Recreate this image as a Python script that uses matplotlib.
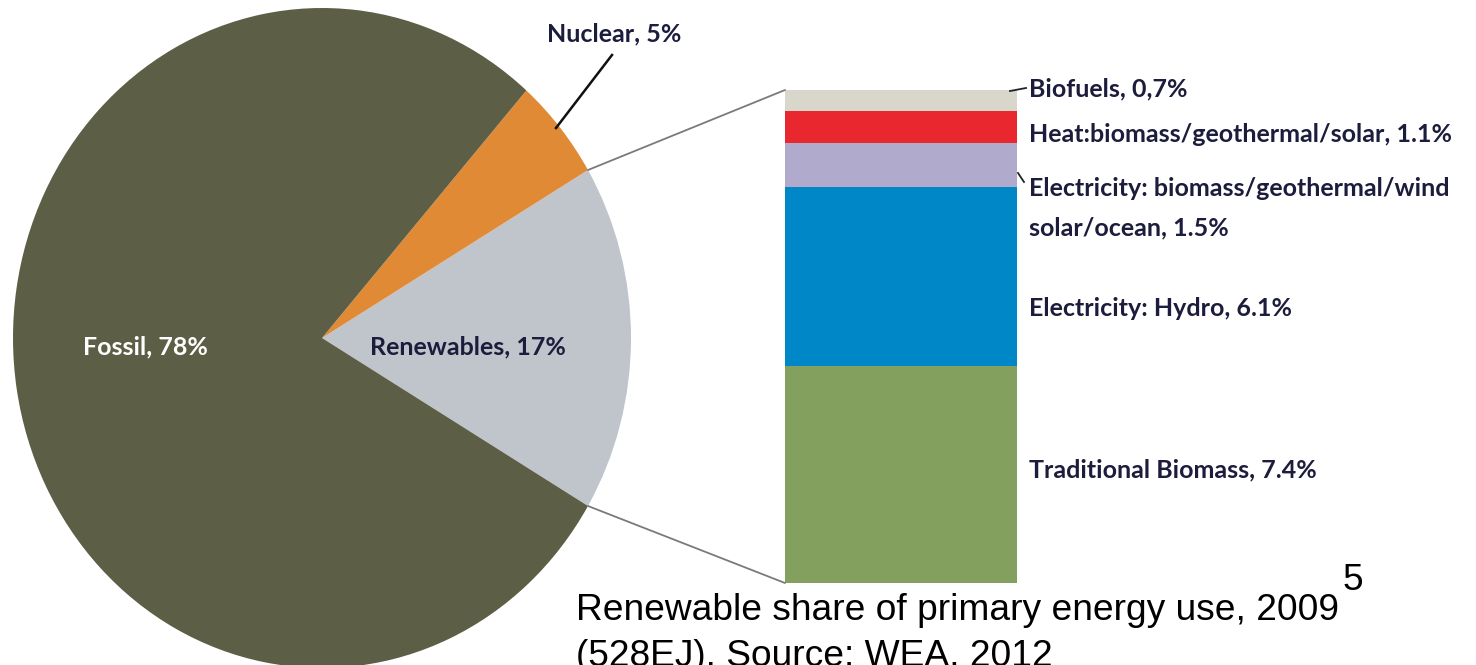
import matplotlib
matplotlib.use("Agg")
import matplotlib.pyplot as plt
import numpy as np
from matplotlib.patches import ConnectionPatch
from matplotlib.lines import Line2D

# ---------------- data ----------------
pie_labels = ["Renewables, 17%", "Nuclear, 5%", "Fossil, 78%"]
pie_values = [17, 5, 78]
pie_colors = ["#c0c4cb", "#e08a35", "#5c5e45"]

bar_labels = ["Traditional Biomass, 7.4%", "Electricity: Hydro, 6.1%",
              "Electricity: biomass/geothermal/wind\nsolar/ocean, 1.5%",
              "Heat:biomass/geothermal/solar, 1.1%", "Biofuels, 0,7%"]
bar_values = [7.4, 6.1, 1.5, 1.1, 0.7]
bar_colors = ["#84a05e", "#0087c8", "#b0aacd", "#e8282e", "#d9d7cc"]

caption_1 = "Renewable share of primary energy use, 2009"
caption_2 = "(528EJ). Source: WEA, 2012"
page_no = "5"

# ---------------- figure ----------------
W, H = 1476, 665
fig = plt.figure(figsize=(W / 100, H / 100), dpi=100)
fig.patch.set_facecolor("white")

def fpos(x0, y0, x1, y1):
    return [x0 / W, 1 - y1 / H, (x1 - x0) / W, (y1 - y0) / H]

def fxy(x, y):
    return (x / W, 1 - y / H)

LBL = ["Lato", "DejaVu Sans"]
LFS = 18
navy = "#1c1c3c"

# pie (slightly elliptical)
cx, cy, rx, ry = 322, 338, 309, 330
axp = fig.add_axes(fpos(cx - rx, cy - ry, cx + rx, cy + ry))
ren_frac = pie_values[0] / sum(pie_values)
start = -ren_frac * 180
axp.pie(pie_values, colors=pie_colors, startangle=start, counterclock=True,
        radius=1, wedgeprops=dict(linewidth=0))
axp.set_aspect("auto")
axp.set_xlim(-1, 1)
axp.set_ylim(-1, 1)
axp.axis("off")

# stacked bar
bx0, by0, bx1, by1 = 785, 90, 1017, 583
axb = fig.add_axes(fpos(bx0, by0, bx1, by1))
bottom = 0.0
for v, c in zip(bar_values, bar_colors):
    axb.bar(0, v, width=1.0, bottom=bottom, color=c, linewidth=0)
    bottom += v
total = bottom
axb.set_xlim(-0.5, 0.5)
axb.set_ylim(0, total)
axb.axis("off")

# connection lines
t1 = np.deg2rad(start)
t2 = np.deg2rad(start + ren_frac * 360)
for t, ybar in [(t2, total), (t1, 0)]:
    con = ConnectionPatch(xyA=(np.cos(t), np.sin(t)), coordsA=axp.transData,
                          xyB=(-0.5, ybar), coordsB=axb.transData,
                          color="#7a7a7a", linewidth=1.3)
    fig.add_artist(con)

# pie labels
fig.text(*fxy(145, 347), pie_labels[2], family=LBL, weight="bold", fontsize=LFS,
         color="white", ha="center", va="center")
fig.text(*fxy(468, 347), pie_labels[0], family=LBL, weight="bold", fontsize=LFS,
         color=navy, ha="center", va="center")
fig.text(*fxy(614, 34), pie_labels[1], family=LBL, weight="bold", fontsize=LFS,
         color=navy, ha="center", va="center")
fig.add_artist(Line2D([612 / W, 556 / W], [1 - 55 / H, 1 - 128 / H],
                      color="#111111", linewidth=1.8))

# bar labels
label_y = [470, 308, 208, 134, 89]
for lab, y in zip(bar_labels, label_y):
    fig.text(*fxy(1029, y), lab, family=LBL, weight="bold", fontsize=LFS,
             color=navy, ha="left", va="center", linespacing=1.85)
fig.add_artist(Line2D([1010 / W, 1026 / W], [1 - 91 / H, 1 - 88 / H],
                      color="#222222", linewidth=1.3))
fig.add_artist(Line2D([1018 / W, 1024 / W], [1 - 173 / H, 1 - 182 / H],
                      color="#222222", linewidth=1.3))

# caption
CAP = ["Liberation Sans", "DejaVu Sans"]
CFS = 26.7
fig.text(*fxy(576, 610), caption_1, family=CAP, fontsize=CFS, color="black",
         ha="left", va="center")
fig.text(*fxy(576, 656), caption_2, family=CAP, fontsize=CFS, color="black",
         ha="left", va="center")
fig.text(*fxy(1343, 581), page_no, family=CAP, fontsize=CFS, color="black",
         ha="left", va="center")

fig.savefig("out.png", dpi=100, facecolor="white")
